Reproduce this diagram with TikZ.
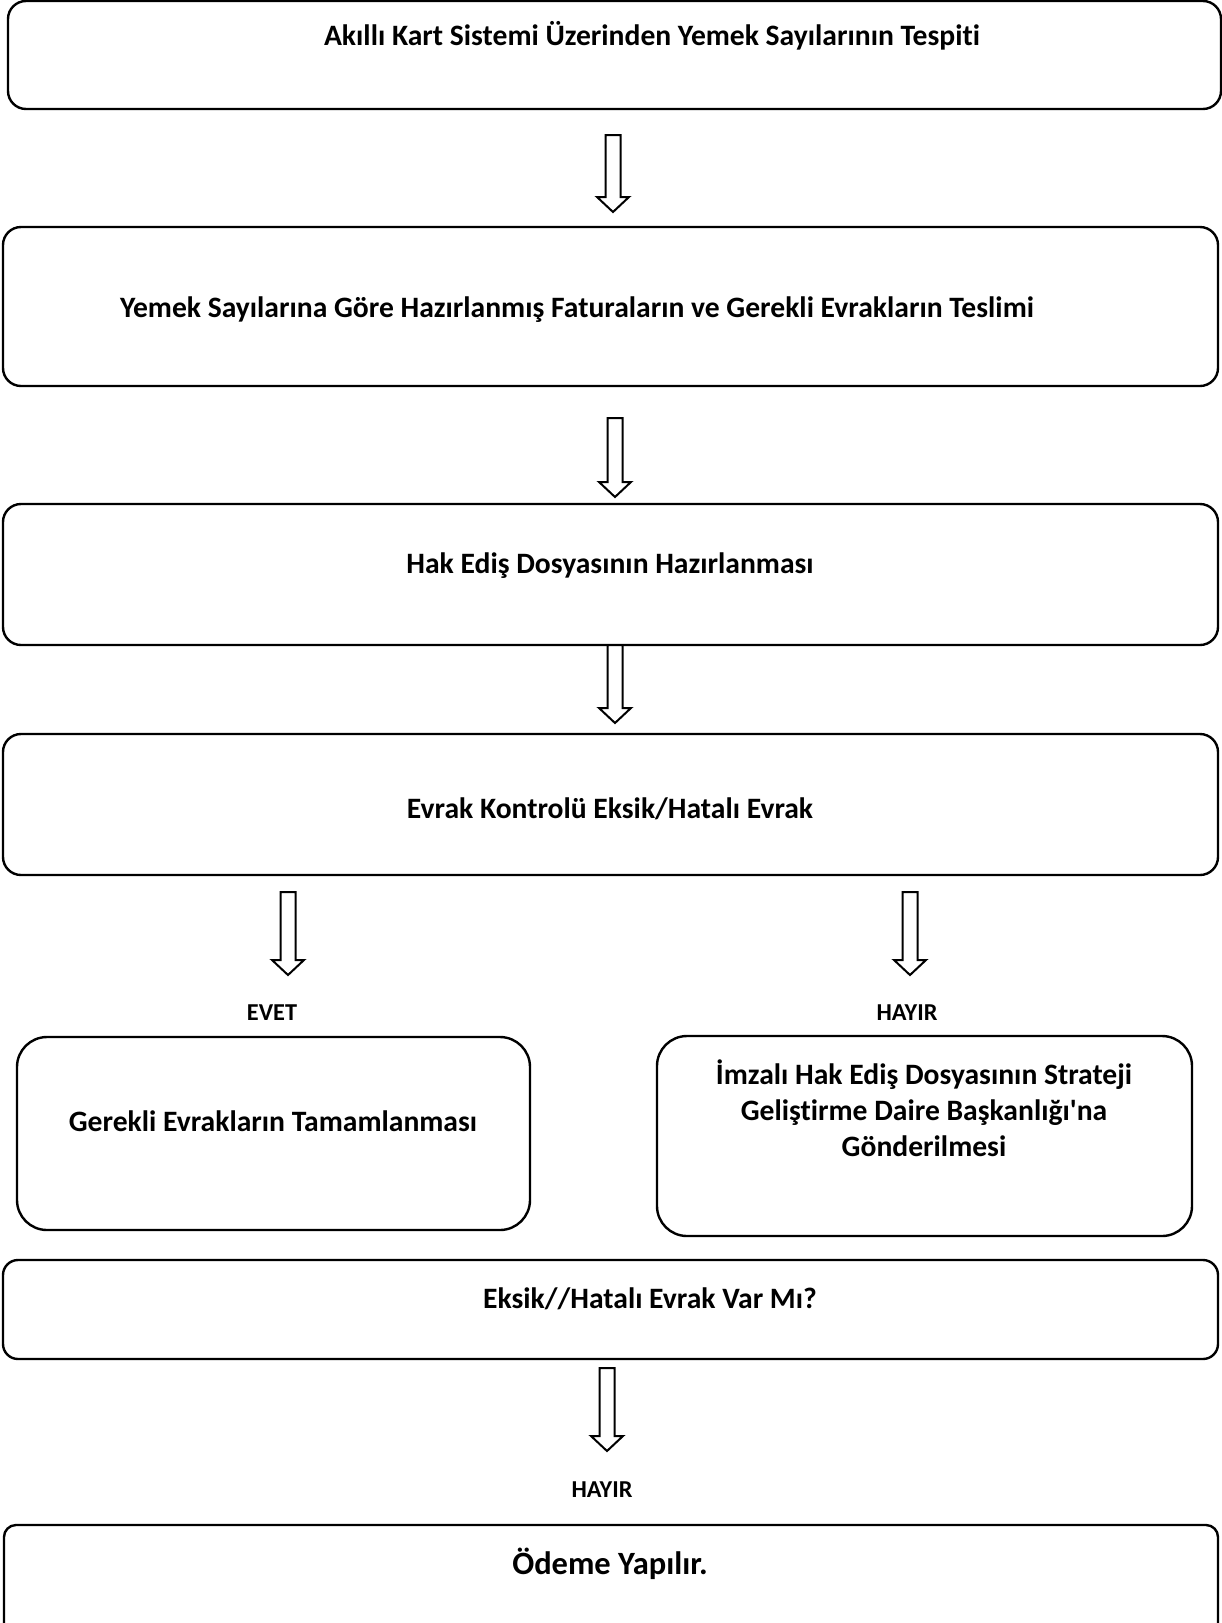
\documentclass[tikz,border=0pt]{standalone}
\usepackage{fontspec}
\setmainfont{Carlito}[Ligatures={NoCommon}]
\begin{document}
\begin{tikzpicture}[x=1pt,y=-1pt,
  box/.style={draw=black,line width=2.4pt,rounded corners=#1,inner sep=0pt,anchor=north west},
  box/.default=18pt,
  txt/.style={font=\fontsize{29.6}{36}\selectfont\bfseries,inner sep=0pt,align=center},
  lbl/.style={font=\fontsize{24.3}{28}\selectfont\bfseries,inner sep=0pt},
  arrline/.style={draw=black,line width=2pt,fill=white,line join=miter},
  downarr/.pic={\path[arrline] (-7.5,0) -- (-7.5,#1-15) -- (-16,#1-15) -- (0,#1) -- (16,#1-15) -- (7.5,#1-15) -- (7.5,0) -- cycle;}]
\clip (0,0) rectangle (1222,1623);
\fill[white] (0,0) rectangle (1222,1623);
% boxes
\draw[box] (8,1) rectangle (1221,109); \coordinate (b1) at (614.5,55);
\draw[box] (3,227) rectangle (1218,386); \coordinate (b2) at (610.5,306);
\draw[box] (3,504) rectangle (1218,645); \coordinate (b3) at (610.5,574);
\draw[box] (3,734) rectangle (1218,875); \coordinate (b4) at (610.5,804);
\draw[box=30pt] (17,1037) rectangle (530,1230); \coordinate (bl) at (273.5,1133);
\draw[box=30pt] (657,1036) rectangle (1192,1236); \coordinate (br) at (924.5,1136);
\draw[box=15pt] (3,1260) rectangle (1218,1359); \coordinate (b5) at (610.5,1309);
\draw[box=12pt] (4,1525) rectangle (1218,1650); \coordinate (b6) at (611,1580);
% texts
\node[txt] (t1) at (652,36) {Akıllı Kart Sistemi Üzerinden Yemek Sayılarının Tespiti};
\node[txt] (t2) at (577,310) {Yemek Sayılarına Göre Hazırlanmış Faturaların ve Gerekli Evrakların Teslimi};
\node[txt] (t3) at (610,566) {Hak Ediş Dosyasının Hazırlanması};
\node[txt] (t4) at (610,809) {Evrak Kontrolü Eksik/Hatalı Evrak};
\node[lbl] (evet) at (272,1013) {EVET};
\node[lbl] (hayir1) at (907,1013) {HAYIR};
\node[txt] (tl) at (273,1121) {Gerekli Evrakların Tamamlanması};
\node[txt] (tr) at (924,1108) {İmzalı Hak Ediş Dosyasının Strateji\\Geliştirme Daire Başkanlığı\textquotesingle na\\Gönderilmesi};
\node[txt] (t5) at (650,1299) {Eksik//Hatalı Evrak Var Mı?};
\node[lbl] (hayir2) at (602,1490) {HAYIR};
\node[txt,font=\fontsize{32.5}{36}\selectfont\bfseries] (t6) at (610,1564) {Ödeme Yapılır.};
% block arrows
\pic (a1) at (613,135) {downarr=77};
\pic (a2) at (615,418) {downarr=79};
\pic (a3) at (615,645) {downarr=78};
\pic (a4) at (288,892) {downarr=83};
\pic (a5) at (910,892) {downarr=83};
\pic (a6) at (607,1368) {downarr=83};
\end{tikzpicture}
\end{document}
